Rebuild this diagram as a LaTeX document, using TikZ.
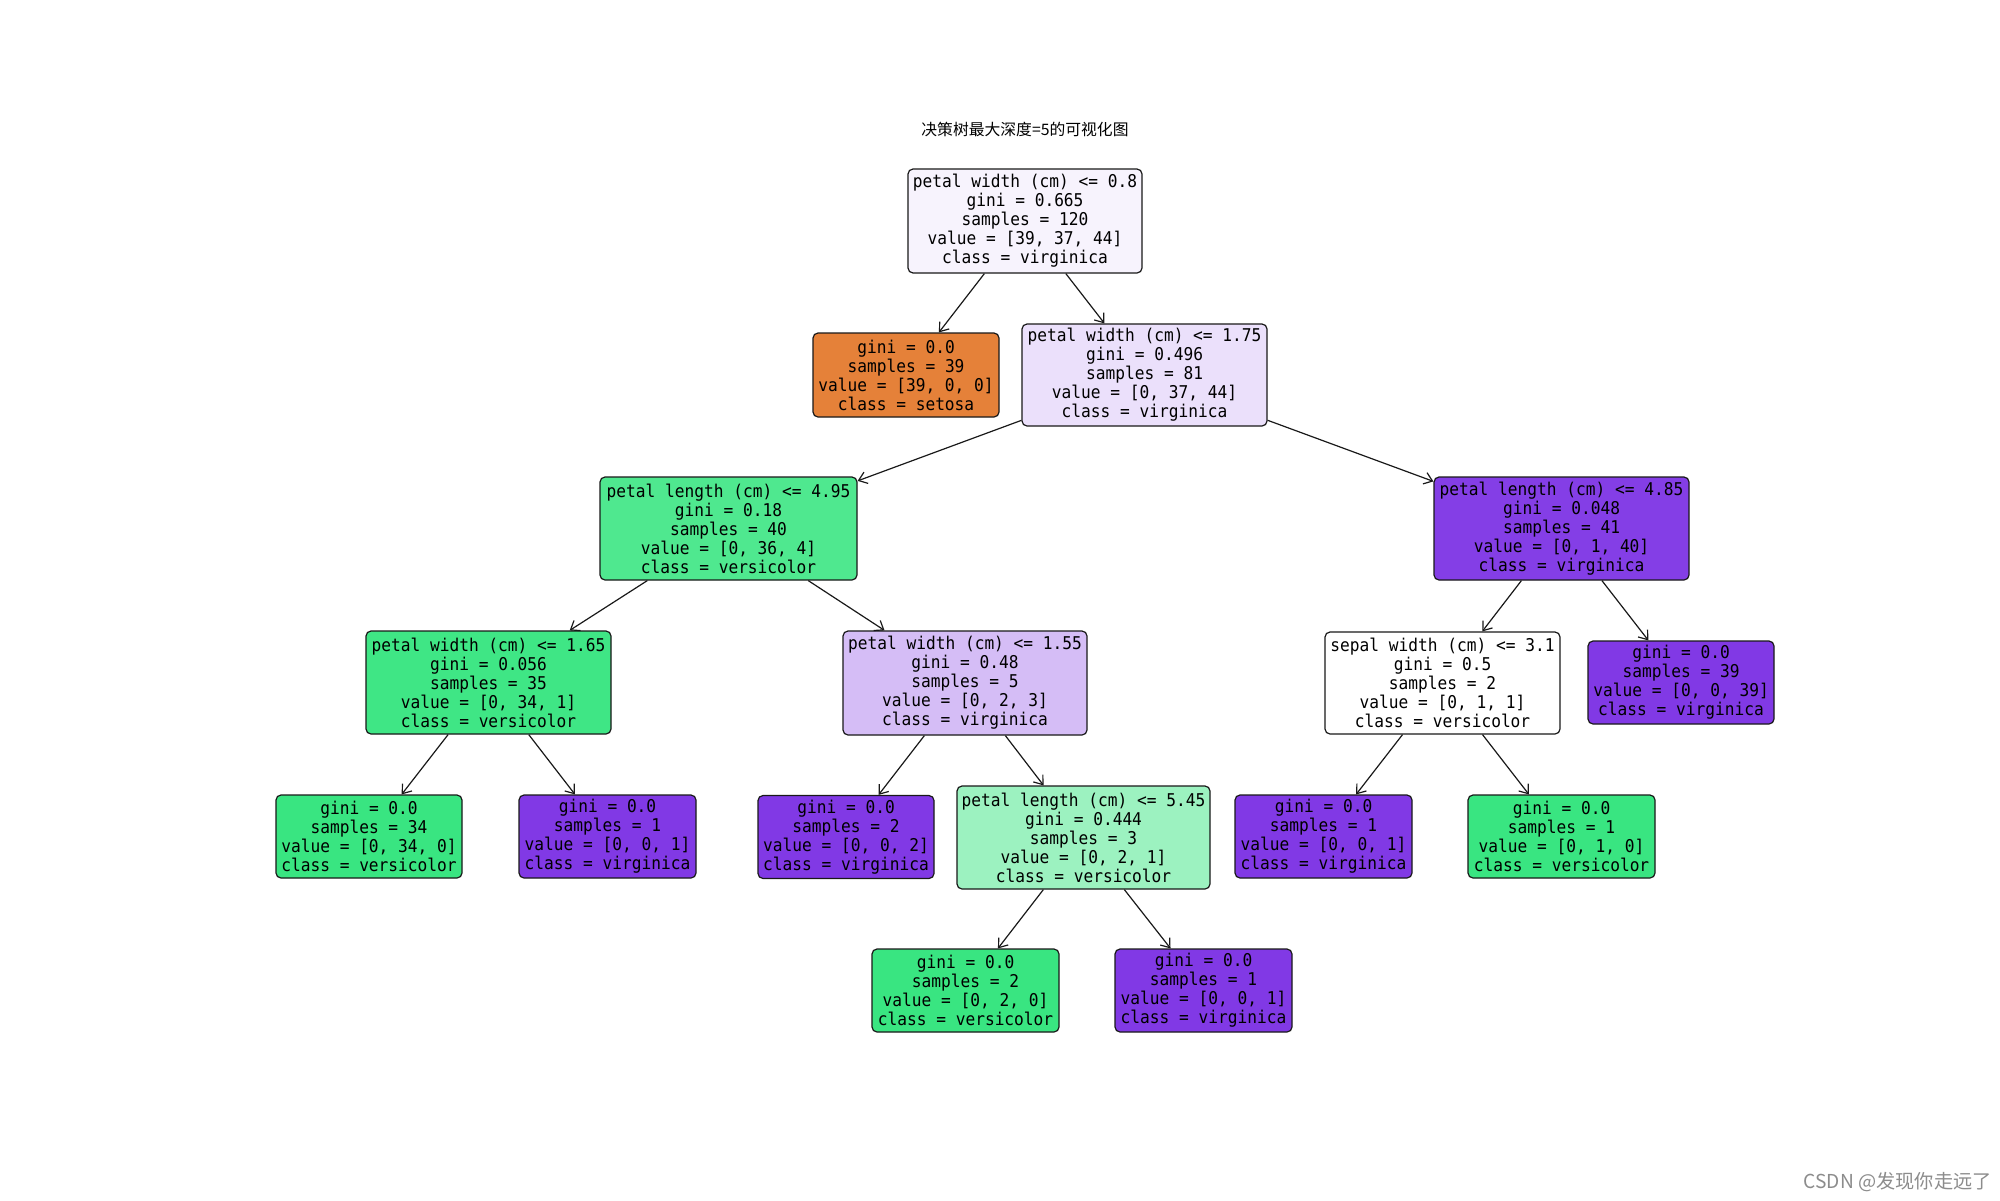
\documentclass[tikz,border=0pt]{standalone}
\usepackage{fontspec}
\usetikzlibrary{arrows.meta}
\newfontfamily\treefont[FakeStretch=0.92]{DejaVu Sans Mono}
\newfontfamily\cjkfont{Noto Sans CJK SC}
\definecolor{cRoot}{HTML}{F7F3FD}
\definecolor{cA}{HTML}{EBE0FB}
\definecolor{cB}{HTML}{4FE88F}
\definecolor{cC}{HTML}{843EE6}
\definecolor{cD}{HTML}{3FE685}
\definecolor{cE}{HTML}{D5BDF6}
\definecolor{cF}{HTML}{9CF2C0}
\definecolor{cSet}{HTML}{E58139}
\definecolor{cVer}{HTML}{39E581}
\definecolor{cVir}{HTML}{8139E5}
\tikzset{
  tbox/.style={rectangle, rounded corners=2.5pt, draw=black!90, line width=0.6pt,
    inner sep=0pt, align=center, font=\treefont\fontsize{8.8pt}{9.5pt}\selectfont},
  edge/.style={draw=black!90, line width=0.6pt, -{Straight Barb[length=4pt,width=6pt,line width=0.6pt]}}
}
\begin{document}
\begin{tikzpicture}[x=0.5pt,y=-0.5pt]
\useasboundingbox[fill=white] (0,0) rectangle (2000,1200);
\node[font=\cjkfont\fontsize{7.9pt}{9pt}\selectfont] (title) at (1025,129) {决策树最大深度=5的可视化图};

\node[tbox, fill=cRoot, minimum width=117pt, minimum height=52pt] (root) at (1025,221)
  {petal width (cm) <= 0.8\\gini = 0.665\\samples = 120\\value = [39, 37, 44]\\class = virginica};
\node[tbox, fill=cSet, minimum width=93pt, minimum height=42pt] (setosa) at (906,375)
  {gini = 0.0\\samples = 39\\value = [39, 0, 0]\\class = setosa};
\node[tbox, fill=cA, minimum width=122.5pt, minimum height=51pt] (n175) at (1144.5,375)
  {petal width (cm) <= 1.75\\gini = 0.496\\samples = 81\\value = [0, 37, 44]\\class = virginica};
\node[tbox, fill=cB, minimum width=128.5pt, minimum height=51.5pt] (n495) at (728.5,528.5)
  {petal length (cm) <= 4.95\\gini = 0.18\\samples = 40\\value = [0, 36, 4]\\class = versicolor};
\node[tbox, fill=cC, minimum width=127.5pt, minimum height=51.5pt] (n485) at (1561.5,528.5)
  {petal length (cm) <= 4.85\\gini = 0.048\\samples = 41\\value = [0, 1, 40]\\class = virginica};
\node[tbox, fill=cD, minimum width=122.5pt, minimum height=51.5pt] (n165) at (488.5,682.5)
  {petal width (cm) <= 1.65\\gini = 0.056\\samples = 35\\value = [0, 34, 1]\\class = versicolor};
\node[tbox, fill=cE, minimum width=122pt, minimum height=52pt] (n155) at (965,683)
  {petal width (cm) <= 1.55\\gini = 0.48\\samples = 5\\value = [0, 2, 3]\\class = virginica};
\node[tbox, fill=white, minimum width=117.5pt, minimum height=51pt] (n31) at (1442.5,683)
  {sepal width (cm) <= 3.1\\gini = 0.5\\samples = 2\\value = [0, 1, 1]\\class = versicolor};
\node[tbox, fill=cVir, minimum width=93pt, minimum height=41.5pt] (l0039) at (1681,682.5)
  {gini = 0.0\\samples = 39\\value = [0, 0, 39]\\class = virginica};
\node[tbox, fill=cVer, minimum width=93pt, minimum height=41.5pt] (l34) at (369,836.5)
  {gini = 0.0\\samples = 34\\value = [0, 34, 0]\\class = versicolor};
\node[tbox, fill=cVir, minimum width=88.5pt, minimum height=41.5pt] (l001a) at (607.5,836.5)
  {gini = 0.0\\samples = 1\\value = [0, 0, 1]\\class = virginica};
\node[tbox, fill=cVir, minimum width=88pt, minimum height=41.5pt] (l002) at (846,837)
  {gini = 0.0\\samples = 2\\value = [0, 0, 2]\\class = virginica};
\node[tbox, fill=cF, minimum width=126.5pt, minimum height=51.5pt] (n545) at (1083.5,837.5)
  {petal length (cm) <= 5.45\\gini = 0.444\\samples = 3\\value = [0, 2, 1]\\class = versicolor};
\node[tbox, fill=cVir, minimum width=88.5pt, minimum height=41.5pt] (l001c) at (1323.5,836.5)
  {gini = 0.0\\samples = 1\\value = [0, 0, 1]\\class = virginica};
\node[tbox, fill=cVer, minimum width=93.5pt, minimum height=41.5pt] (l010) at (1561.5,836.5)
  {gini = 0.0\\samples = 1\\value = [0, 1, 0]\\class = versicolor};
\node[tbox, fill=cVer, minimum width=93.5pt, minimum height=41.5pt] (l020) at (965.5,990.5)
  {gini = 0.0\\samples = 2\\value = [0, 2, 0]\\class = versicolor};
\node[tbox, fill=cVir, minimum width=88.5pt, minimum height=41.5pt] (l001b) at (1203.5,990.5)
  {gini = 0.0\\samples = 1\\value = [0, 0, 1]\\class = virginica};

\draw[edge] (root) -- (setosa);
\draw[edge] (root) -- (n175);
\draw[edge] (n175) -- (n495);
\draw[edge] (n175) -- (n485);
\draw[edge] (n495) -- (n165);
\draw[edge] (n495) -- (n155);
\draw[edge] (n165) -- (l34);
\draw[edge] (n165) -- (l001a);
\draw[edge] (n155) -- (l002);
\draw[edge] (n155) -- (n545);
\draw[edge] (n545) -- (l020);
\draw[edge] (n545) -- (l001b);
\draw[edge] (n485) -- (n31);
\draw[edge] (n485) -- (l0039);
\draw[edge] (n31) -- (l001c);
\draw[edge] (n31) -- (l010);

\node[anchor=east, text=black!45, inner sep=0pt, font=\cjkfont\fontsize{9.6pt}{11pt}\selectfont] (wm) at (1992,1182) {CSDN @发现你走远了};
\end{tikzpicture}
\end{document}
